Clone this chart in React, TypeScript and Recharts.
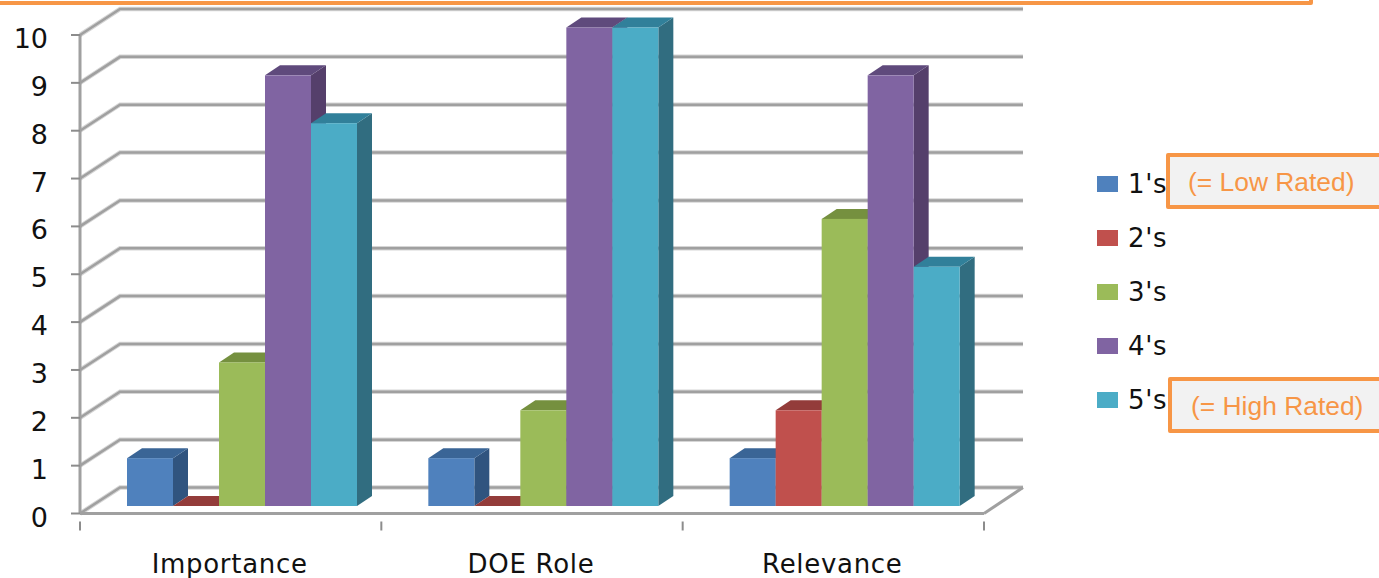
// Survey ratings per question, drawn as faux-3D clustered columns.
import { BarChart, Bar, XAxis, YAxis, CartesianGrid, Legend } from "recharts";

const categories = ["Importance", "DOE Role", "Relevance"];
const ones = [1, 1, 1];
const twos = [0, 0, 2];
const threes = [3, 2, 6];
const fours = [9, 10, 9];
const fives = [8, 10, 5];
const yTicks = [0, 1, 2, 3, 4, 5, 6, 7, 8, 9, 10];

const seriesNames = ["1's", "2's", "3's", "4's", "5's"];
const seriesValues = [ones, twos, threes, fours, fives];
const frontColors = ["#4f81bd", "#c0504d", "#9bbb59", "#8064a2", "#4bacc6"];
const topColors = ["#3a6596", "#933c3a", "#75903f", "#5f4a7c", "#31809a"];
const sideColors = ["#30547f", "#7d3230", "#63793a", "#553f6b", "#316d80"];

const rows = categories.map((name, i) => {
  const row: Record<string, string | number> = { name };
  seriesNames.forEach((s, j) => {
    row[s] = seriesValues[j][i];
  });
  return row;
});

const WIDTH = 1379;
const HEIGHT = 578;
const PLOT_LEFT = 80;
const PLOT_RIGHT = 984;
const PLOT_TOP = 35;
const PLOT_BOTTOM = 513.5;
const BAND = (PLOT_RIGHT - PLOT_LEFT) / categories.length;

// depth of the back wall and of a single column
const WALL_DX = 40;
const WALL_DY = 26;
const BAR_DX = 15;
const BAR_DY = 10;
const BAR_SHIFT_X = 12;
const BAR_SHIFT_Y = -7.5;

const AXIS_GREY = "#a0a0a0";
const AXIS_HALO = "#d6d6d6";
const ORANGE = "#f79646";
const AXIS_FONT = "'DejaVu Sans', sans-serif";

function column(seriesIndex: number) {
  return function Column(props: any) {
    const { x, y, width, height } = props;
    const left = x + BAR_SHIFT_X;
    const right = left + width;
    const top = y + BAR_SHIFT_Y;
    const bottom = top + height;
    return (
      <g>
        <polygon
          points={`${right},${top} ${right + BAR_DX},${top - BAR_DY} ${right + BAR_DX},${bottom - BAR_DY} ${right},${bottom}`}
          fill={sideColors[seriesIndex]}
        />
        <polygon
          points={`${left},${top} ${left + BAR_DX},${top - BAR_DY} ${right + BAR_DX},${top - BAR_DY} ${right},${top}`}
          fill={topColors[seriesIndex]}
        />
        <rect x={left} y={top} width={width} height={height} fill={frontColors[seriesIndex]} />
      </g>
    );
  };
}

// Each horizontal grid line runs back along the side wall, then across the back wall.
function wallLine(props: any) {
  const { x1, x2, y1 } = props;
  const isFloor = y1 >= PLOT_BOTTOM - 1;
  const backY = y1 - WALL_DY;
  const points = `${x1},${y1} ${x1 + WALL_DX},${backY} ${x2 + WALL_DX - 1},${backY}`;
  return (
    <g key={props.key}>
      <polyline points={points} fill="none" stroke={AXIS_HALO} strokeWidth={4.5} />
      <polyline points={points} fill="none" stroke={AXIS_GREY} strokeWidth={2.5} />
      {isFloor && (
        <line x1={x2} y1={y1} x2={x2 + WALL_DX - 1} y2={backY} stroke={AXIS_GREY} strokeWidth={3} />
      )}
    </g>
  );
}

function CategoryTick(props: any) {
  const { x, y, index, payload } = props;
  const isLast = index === categories.length - 1;
  return (
    <g>
      <line x1={x - BAND / 2} y1={y} x2={x - BAND / 2} y2={y + 9} stroke="#8c8c8c" strokeWidth={2} />
      {isLast && (
        <line x1={x + BAND / 2} y1={y} x2={x + BAND / 2} y2={y + 9} stroke="#8c8c8c" strokeWidth={2} />
      )}
      <text
        x={x - 1}
        y={572.5}
        textAnchor="middle"
        fontFamily={AXIS_FONT}
        fontSize={26}
        letterSpacing={0.7}
        fill="#111"
      >
        {payload.value}
      </text>
    </g>
  );
}

function ValueTick(props: any) {
  const { x, y, payload } = props;
  return (
    <text x={x + 1} y={y + 13} textAnchor="end" fontFamily={AXIS_FONT} fontSize={27} fill="#111">
      {payload.value}
    </text>
  );
}

function LegendRows({ payload }: any) {
  return (
    <div>
      {(payload ?? []).map((item: any) => (
        <div key={item.value} style={{ display: "flex", alignItems: "center", height: 54 }}>
          <span style={{ width: 21, height: 16, background: item.color, marginRight: 10 }} />
          <span style={{ fontFamily: AXIS_FONT, fontSize: 26, letterSpacing: 0.6, color: "#111" }}>
            {item.value}
          </span>
        </div>
      ))}
    </div>
  );
}

function RatingNote({ text, left, top, height, textLeft }: any) {
  return (
    <div
      style={{
        position: "absolute",
        left,
        top,
        width: WIDTH - left + 20,
        height,
        boxSizing: "border-box",
        background: "#f2f2f2",
        border: `4px solid ${ORANGE}`,
        borderRadius: 2,
        color: ORANGE,
        fontFamily: "'Liberation Sans', sans-serif",
        fontSize: 26.4,
        lineHeight: `${height - 6}px`,
        paddingLeft: textLeft - left - 4,
        whiteSpace: "nowrap",
      }}
    >
      {text}
    </div>
  );
}

export default function App() {
  return (
    <div style={{ position: "fixed", left: 0, top: 0, width: WIDTH, height: HEIGHT, overflow: "hidden", background: "#fff" }}>
      <BarChart
        width={WIDTH}
        height={HEIGHT}
        data={rows}
        margin={{ top: PLOT_TOP, right: WIDTH - PLOT_RIGHT, bottom: 0, left: 0 }}
        barCategoryGap={35}
        barGap={0}
      >
        <CartesianGrid horizontal={wallLine} vertical={false} />
        <XAxis
          dataKey="name"
          height={HEIGHT - PLOT_BOTTOM}
          axisLine={{ stroke: AXIS_GREY, strokeWidth: 3 }}
          tickLine={false}
          tick={CategoryTick}
          interval={0}
        />
        <YAxis
          width={PLOT_LEFT}
          domain={[0, 10]}
          ticks={yTicks}
          interval={0}
          axisLine={{ stroke: AXIS_GREY, strokeWidth: 3 }}
          tickLine={{ stroke: "#8c8c8c", strokeWidth: 2 }}
          tickSize={9}
          tickMargin={24}
          tick={ValueTick}
        />
        {/* horizontal + middle keeps the legend from reserving space in the plot */}
        <Legend
          layout="horizontal"
          verticalAlign="middle"
          content={LegendRows}
          wrapperStyle={{ left: 1097, top: 157, width: 80 }}
        />
        {seriesNames.map((name, i) => (
          <Bar
            key={name}
            dataKey={name}
            name={name}
            fill={frontColors[i]}
            shape={column(i)}
            isAnimationActive={false}
          />
        ))}
      </BarChart>
      {/* call-out frame running off the top edge */}
      <div
        style={{
          position: "absolute",
          left: -10,
          top: -40,
          width: 1323,
          height: 45,
          boxSizing: "border-box",
          border: `4px solid ${ORANGE}`,
          borderRadius: 2,
        }}
      />
      <RatingNote text="(= Low Rated)" left={1166} top={153} height={56} textLeft={1188} />
      <RatingNote text="(= High Rated)" left={1168} top={377} height={56} textLeft={1191} />
    </div>
  );
}
